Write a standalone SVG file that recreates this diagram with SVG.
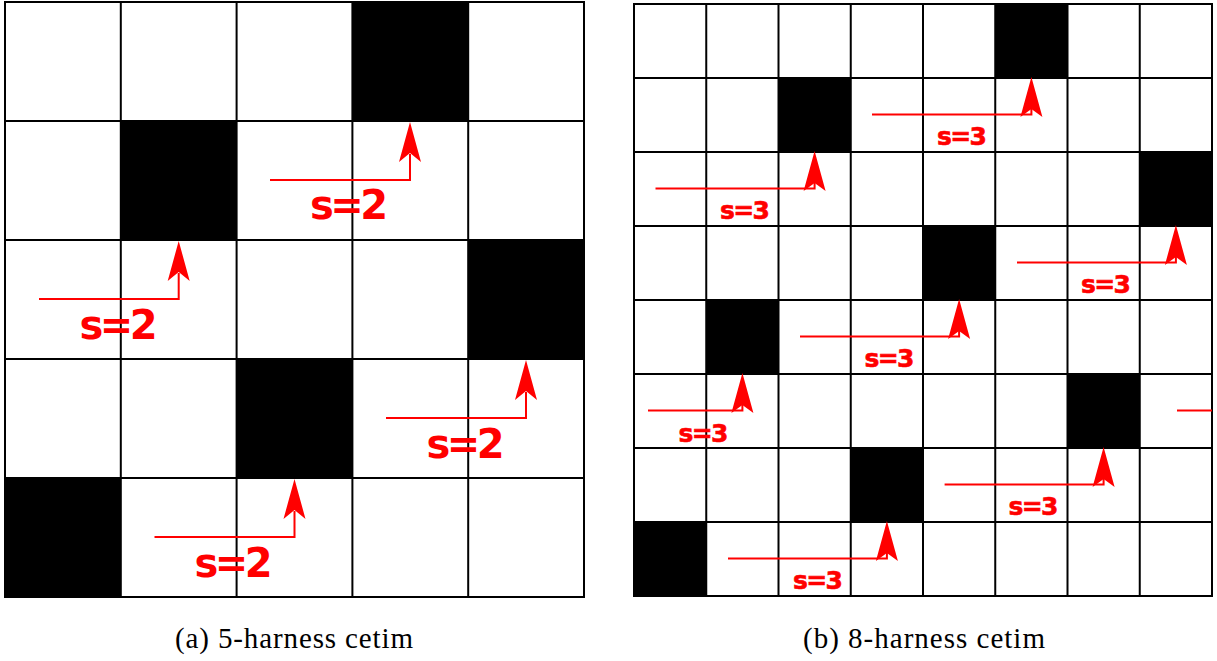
<svg xmlns="http://www.w3.org/2000/svg" width="1217" height="661" viewBox="0 0 1217 661">
<style>
.grid{fill:none;stroke:#000;stroke-width:2}
.blk{fill:#000}
.red{fill:none;stroke:#ff0000;stroke-width:2}
.head{fill:#ff0000;stroke:none}
.lblL{font-family:"DejaVu Sans",sans-serif;font-weight:bold;font-size:40px;fill:#ff0000;text-anchor:middle}
.lblR{font-family:"DejaVu Sans",sans-serif;font-weight:bold;font-size:25px;fill:#ff0000;stroke:#ff0000;stroke-width:0.6;text-anchor:middle}
.cap{font-family:"Liberation Serif",serif;font-size:29px;fill:#000;text-anchor:middle}
</style>
<rect width="1217" height="661" fill="#fff"/>
<g id="gridA">
<rect class="blk" x="352.4" y="2" width="115.8" height="119"/>
<rect class="blk" x="120.8" y="121" width="115.8" height="119"/>
<rect class="blk" x="468.2" y="240" width="115.8" height="119"/>
<rect class="blk" x="236.6" y="359" width="115.8" height="119"/>
<rect class="blk" x="5" y="478" width="115.8" height="119"/>
<path class="grid" d="M5,2H584V597H5Z M120.8,2V597 M236.6,2V597 M352.4,2V597 M468.2,2V597 M5,121H584 M5,240H584 M5,359H584 M5,478H584"/>
</g>
<g id="gridB">
<rect class="blk" x="995.25" y="4" width="72.25" height="74"/>
<rect class="blk" x="778.5" y="78" width="72.25" height="74"/>
<rect class="blk" x="1139.75" y="152" width="72.25" height="74"/>
<rect class="blk" x="923" y="226" width="72.25" height="74"/>
<rect class="blk" x="706.25" y="300" width="72.25" height="74"/>
<rect class="blk" x="1067.5" y="374" width="72.25" height="74"/>
<rect class="blk" x="850.75" y="448" width="72.25" height="74"/>
<rect class="blk" x="634" y="522" width="72.25" height="74"/>
<path class="grid" d="M634,4H1212V596H634Z M706.25,4V596 M778.5,4V596 M850.75,4V596 M923,4V596 M995.25,4V596 M1067.5,4V596 M1139.75,4V596 M634,78H1212 M634,152H1212 M634,226H1212 M634,300H1212 M634,374H1212 M634,448H1212 M634,522H1212"/>
</g>
<g id="connectors">
<path class="red" d="M270,180H410V154"/><path class="head" d="M410,122L421,162L410,153L399,162Z"/>
<path class="red" d="M39,299H178.7V273"/><path class="head" d="M178.7,241L189.7,281L178.7,272L167.7,281Z"/>
<path class="red" d="M386,418H526V392"/><path class="head" d="M526,360L537,400L526,391L515,400Z"/>
<path class="red" d="M154.5,537H294.5V511"/><path class="head" d="M294.5,479L305.5,519L294.5,510L283.5,519Z"/>
<path class="red" d="M872,114.5H1031.4V108"/><path class="head" d="M1031.4,77L1042.4,117L1031.4,109L1020.4,117Z"/>
<path class="red" d="M655.5,188.5H814.6V182"/><path class="head" d="M814.6,151L825.6,191L814.6,183L803.6,191Z"/>
<path class="red" d="M1017,262.5H1175.9V256"/><path class="head" d="M1175.9,225L1186.9,265L1175.9,257L1164.9,265Z"/>
<path class="red" d="M800,336.5H959.1V330"/><path class="head" d="M959.1,299L970.1,339L959.1,331L948.1,339Z"/>
<path class="red" d="M648,410.5H742.4V404"/><path class="head" d="M742.4,373L753.4,413L742.4,405L731.4,413Z"/>
<path class="red" d="M944.6,484.5H1103.6V478"/><path class="head" d="M1103.6,447L1114.6,487L1103.6,479L1092.6,487Z"/>
<path class="red" d="M728,558.5H886.9V552"/><path class="head" d="M886.9,521L897.9,561L886.9,553L875.9,561Z"/>
<path class="red" d="M1177,410.5H1212"/>
</g>
<g id="labels">
<text class="lblL" x="349" y="219" textLength="78">s=2</text>
<text class="lblL" x="118.5" y="338.5" textLength="78">s=2</text>
<text class="lblL" x="465.5" y="457.5" textLength="78">s=2</text>
<text class="lblL" x="233.5" y="576.5" textLength="78">s=2</text>
<text class="lblR" x="962" y="145" textLength="50">s=3</text>
<text class="lblR" x="745" y="219" textLength="50">s=3</text>
<text class="lblR" x="1106" y="293" textLength="50">s=3</text>
<text class="lblR" x="889.5" y="367" textLength="50">s=3</text>
<text class="lblR" x="703.5" y="441.5" textLength="50">s=3</text>
<text class="lblR" x="1033.5" y="515" textLength="50">s=3</text>
<text class="lblR" x="818" y="589" textLength="50">s=3</text>
</g>
<g id="captions">
<text class="cap" x="294" y="648" textLength="238">(a) 5-harness cetim</text>
<text class="cap" x="924" y="648" textLength="242">(b) 8-harness cetim</text>
</g>
</svg>
